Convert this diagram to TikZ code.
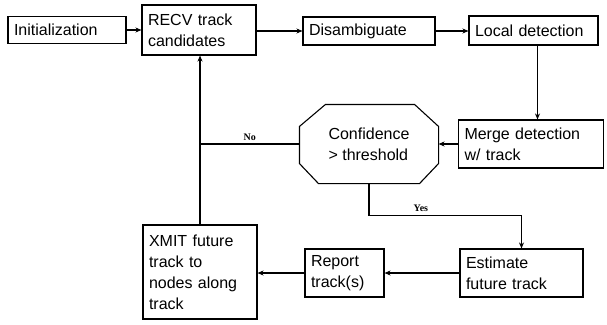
\documentclass[tikz,border=0pt]{standalone}
\usepackage{fontspec}
\setmainfont{Liberation Sans}
\newfontfamily\answerfont{Liberation Serif}
\usetikzlibrary{arrows.meta}

\tikzset{
  box/.style={draw,shape=rectangle,line width=1.1pt,align=left,inner xsep=6pt,inner ysep=0pt,
    font=\fontsize{16}{21}\selectfont},
  wire/.style={line width=1.1pt},
  flow/.style={wire,-{Stealth[length=6pt,width=5pt]}},
  answer/.style={font=\answerfont\bfseries\fontsize{10}{11}\selectfont,inner sep=3pt}
}

\begin{document}
\begin{tikzpicture}[x=1pt,y=-1pt]
\useasboundingbox (0,0) rectangle (607,324);

\node (init) [box,minimum height=27,text width=106pt] at (67,30) {Initialization};
\node (recv) [box,minimum height=50,text width=102pt] at (199,30) {RECV track\\candidates};
\node (disamb) [box,minimum height=28,text width=120pt] at (369,31) {Disambiguate};
\node (local) [box,minimum height=29,text width=117pt] at (533.5,30.5) {Local detection};
\node (merge) [box,minimum height=48,text width=133pt] at (531,144) {Merge detection\\w/ track};
\node (conf) [box,draw=none,minimum width=138,minimum height=78] at (369,144) {Confidence\\> threshold};
\node (estimate) [box,minimum height=48,text width=111pt] at (521.5,273) {Estimate\\future track};
\node (report) [box,minimum height=48,text width=67pt] at (344.5,273) {Report\\track(s)};
\node (xmit) [box,minimum height=94,text width=102pt] at (200,272) {XMIT future\\track to\\nodes along\\track};

% decision outline
\draw[wire] ([xshift=26pt]conf.north west) -- ([xshift=-24pt]conf.north east)
  -- ([yshift=-22pt]conf.north east) -- ([yshift=20pt]conf.south east)
  -- ([xshift=-19pt]conf.south east) -- ([xshift=19pt]conf.south west)
  -- ([yshift=20pt]conf.south west) -- ([yshift=-22pt]conf.north west) -- cycle;

\draw[flow] (init) -- (recv);
\draw[flow] (disamb.west -| recv.east) -- (disamb.west);
\draw[flow] (disamb.east) -- (disamb.east -| local.west);
\draw[flow] ([xshift=4pt]local.south) -- ([xshift=4pt]local.south |- merge.north);
\draw[flow] (merge) -- (conf);
\draw[wire] (conf.west) -- node[answer,above] {No} (conf.west -| xmit.north);
\draw[flow] (xmit.north) -- (xmit.north |- recv.south);
\draw[flow] (conf.south) -- ++(0,32) -| node[answer,pos=0.17,above] {Yes} (estimate.north);
\draw[flow] (estimate) -- (report);
\draw[flow] (report.west) -- (report.west -| xmit.east);

\end{tikzpicture}
\end{document}
